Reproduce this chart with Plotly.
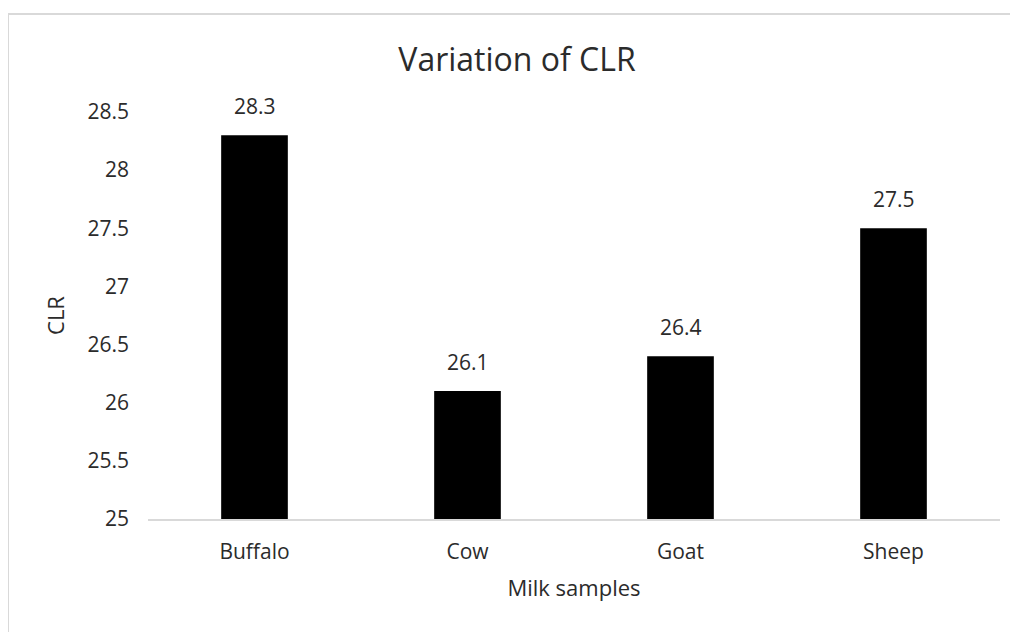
import plotly.graph_objects as go

categories = ["Buffalo", "Cow", "Goat", "Sheep"]
clr_values = [28.3, 26.1, 26.4, 27.5]
y_ticks = [25, 25.5, 26, 26.5, 27, 27.5, 28, 28.5]
y_tick_labels = ["25", "25.5", "26", "26.5", "27", "27.5", "28", "28.5"]

FONT = "Open Sans, Noto Sans, sans-serif"
TXT = "#2b2b2b"

OFF = 8  # page body margin
W, H = 1018 - OFF, 632 - OFF
# target page-pixel positions of plot area
PL, PR, PT, PB = 148, 1000, 112, 519
L, T = PL - OFF, PT - OFF
R = W - (PR - OFF)
B = H - (PB - OFF)
pw = W - L - R
ph = H - T - B

fig = go.Figure()
fig.add_trace(go.Bar(
    x=categories, y=clr_values,
    marker=dict(color="#000000", line=dict(width=0)),
    hoverinfo="x+y",
))

for c, v in zip(categories, clr_values):
    fig.add_annotation(x=c, y=v, text=f"{v:.1f}", showarrow=False,
                       yanchor="bottom", yshift=13,
                       font=dict(family=FONT, size=21, color=TXT))

# chart border (only left/top visible in reference)
fig.add_shape(type="rect", xref="paper", yref="paper",
              x0=(8 - PL) / pw, x1=(1060 - PL) / pw,
              y0=(PB - 680) / ph, y1=(PB - 14) / ph,
              line=dict(color="#d9d9d9", width=2), fillcolor="rgba(0,0,0,0)",
              layer="below")

fig.update_layout(
    width=W, height=H,
    margin=dict(l=L, r=R, t=T, b=B, autoexpand=False),
    paper_bgcolor="white", plot_bgcolor="white",
    bargap=0.687,
    showlegend=False,
    title=dict(text="Variation of CLR", x=(517 - OFF) / W, xanchor="center",
               xref="container", yref="container", y=1 - (60 - OFF) / H, yanchor="middle",
               font=dict(family=FONT, size=32, color=TXT)),
    font=dict(family=FONT, color=TXT),
)
fig.update_xaxes(
    showgrid=False, showline=True, linecolor="#d9d9d9", linewidth=1.5,
    ticks="", ticklabelstandoff=13,
    tickfont=dict(family=FONT, size=21, color=TXT),
    title=dict(text="Milk samples", font=dict(family=FONT, size=22, color=TXT), standoff=17),
)
fig.update_yaxes(
    range=[25, 28.5], tickvals=y_ticks, ticktext=y_tick_labels,
    showgrid=False, showline=False, zeroline=False,
    ticks="", ticklabelstandoff=18,
    tickfont=dict(family=FONT, size=21, color=TXT),
    title=dict(text="CLR", font=dict(family=FONT, size=22, color=TXT), standoff=16),
)

fig.write_html("out.html")
